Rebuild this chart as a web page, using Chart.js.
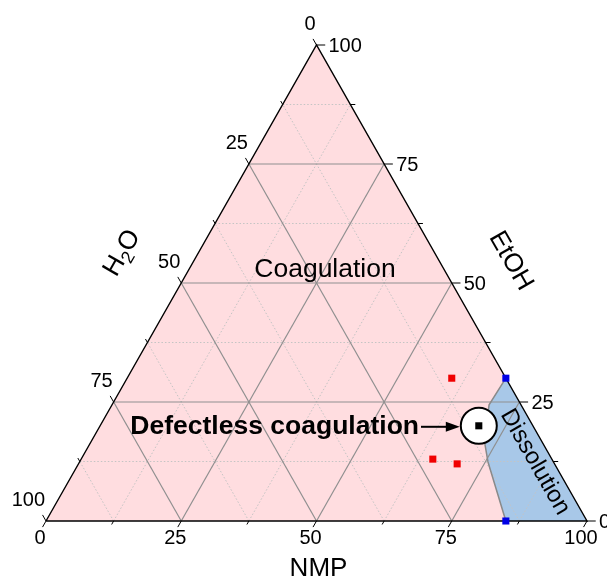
<!DOCTYPE html>
<html>
<head>
<meta charset="utf-8">
<script src="https://cdn.jsdelivr.net/npm/chart.js@4"></script>
<style>
html,body{margin:0;padding:0;background:#fff;}
#wrap{width:607px;height:577px;}
</style>
</head>
<body>
<div id="wrap"><canvas id="c" width="607" height="577"></canvas></div>
<script>
// ---- data (ternary compositions, %) ----
const tickValues = [0, 25, 50, 75, 100];
const minorValues = [12.5, 37.5, 62.5, 87.5];
const tickLabels = ["0", "25", "50", "75", "100"];

const redNMP  = [60, 65, 70];
const redEtOH = [30, 13, 12];

const optNMP  = [70];
const optEtOH = [20];

const blueNMP  = [70, 85];
const blueEtOH = [30, 0];

const dissNMP  = [70, 69.7, 72.5, 75.5, 85, 100];
const dissEtOH = [30, 24.4, 17, 12.4, 0, 0];

const triNMP  = [0, 0, 100];
const triEtOH = [0, 100, 0];

// convert (NMP, EtOH) to cartesian chart coordinates
function tp(nmp, etoh) { return { x: nmp + etoh / 2, y: etoh }; }
function pts(nmps, etohs) { return nmps.map((n, i) => tp(n, etohs[i])); }

const datasets = [];
function lineDS(data, color, width, dash, order) {
  datasets.push({ type: 'line', data, borderColor: color, borderWidth: width, borderDash: dash || [],
    pointRadius: 0, fill: false, tension: 0, clip: false, order });
}

// grid lines
[...tickValues.slice(1, 4), ...minorValues].forEach(c => {
  const major = c % 25 === 0;
  const col = major ? '#8f8f8f' : '#c4c4c4';
  const w = major ? 1.2 : 1;
  const dash = major ? [] : [1.5, 2];
  lineDS([tp(0, c), tp(100 - c, c)], col, w, dash, 20);        // EtOH = c
  lineDS([tp(c, 0), tp(c, 100 - c)], col, w, dash, 20);        // NMP = c
  lineDS([tp(100 - c, 0), tp(0, 100 - c)], col, w, dash, 20);  // H2O = c
});

// triangle border
lineDS([...pts(triNMP, triEtOH), pts(triNMP, triEtOH)[0]], '#000', 1.4, [], 10);

// dissolution boundary
lineDS(pts(dissNMP.slice(0, 5), dissEtOH.slice(0, 5)), '#8a8a8a', 1.5, [], 15);

// ticks
const PX_X = 5.42, PX_Y = 4.76;
function tickSeg(c, len) {
  const segs = [];
  const r = tp(100 - c, c);
  segs.push([r, { x: r.x + len * 1.25 / PX_X, y: r.y }]);
  const l = tp(0, 100 - c);
  const t = len / Math.hypot(0.5 * PX_X, PX_Y);
  segs.push([l, { x: l.x - 0.5 * t, y: l.y + t }]);
  const b = tp(c, 0);
  segs.push([b, { x: b.x - 0.5 * t, y: b.y - t }]);
  return segs;
}
tickValues.forEach(c => tickSeg(c, 7).forEach(s => lineDS(s, '#000', 1, [], 5)));
minorValues.forEach(c => tickSeg(c, 4).forEach(s => lineDS(s, '#000', 1, [], 5)));

// scatter points
datasets.push({ type: 'scatter', data: pts(redNMP, redEtOH), pointStyle: 'rect', pointRadius: 5,
  backgroundColor: '#f00000', borderColor: '#f00000', borderWidth: 0, clip: false, order: 1 });
datasets.push({ type: 'scatter', data: pts(blueNMP, blueEtOH), pointStyle: 'rect', pointRadius: 5,
  backgroundColor: '#0000e6', borderColor: '#0000e6', borderWidth: 0, clip: false, order: 1 });
datasets.push({ type: 'scatter', data: pts(optNMP, optEtOH), pointStyle: 'rect', pointRadius: 5,
  backgroundColor: '#000', borderColor: '#000', borderWidth: 0, clip: false, order: 0 });
datasets.push({ type: 'scatter', data: pts(optNMP, optEtOH), pointStyle: 'circle', pointRadius: 18,
  backgroundColor: '#fff', borderColor: '#000', borderWidth: 2, clip: false, order: 2 });

const FONT = '"Liberation Sans", Arial, sans-serif';

const fillPlugin = {
  id: 'fills',
  beforeDatasetsDraw(chart) {
    const { ctx, scales: { x, y } } = chart;
    function poly(points, color) {
      ctx.beginPath();
      points.forEach((p, i) => {
        const px = x.getPixelForValue(p.x), py = y.getPixelForValue(p.y);
        i ? ctx.lineTo(px, py) : ctx.moveTo(px, py);
      });
      ctx.closePath();
      ctx.fillStyle = color;
      ctx.fill();
    }
    ctx.save();
    poly(pts(triNMP, triEtOH), '#ffdde0');
    poly(pts(dissNMP, dissEtOH), '#a8c8e8');
    ctx.restore();
  }
};

const textPlugin = {
  id: 'texts',
  afterDatasetsDraw(chart) {
    const { ctx, scales: { x, y } } = chart;
    const P = p => ({ x: x.getPixelForValue(p.x), y: y.getPixelForValue(p.y) });
    ctx.save();
    ctx.fillStyle = '#000';
    ctx.font = '20px ' + FONT;
    ctx.textAlign = 'center'; ctx.textBaseline = 'middle';
    tickValues.forEach((c, i) => {
      const p = P(tp(c, 0));
      ctx.fillText(tickLabels[i], p.x - 6, p.y + 17);
    });
    ctx.textAlign = 'left';
    tickValues.forEach((c, i) => {
      const p = P(tp(100 - c, c));
      ctx.fillText(tickLabels[i], p.x + 12, p.y + 1);
    });
    ctx.textAlign = 'right';
    tickValues.forEach((c, i) => {
      const p = P(tp(0, 100 - c));
      ctx.fillText(tickLabels[i], p.x - 1, p.y - 21);
    });

    // axis titles
    ctx.font = '26px ' + FONT;
    ctx.textAlign = 'center';
    const bottomMid = P(tp(50, 0));
    ctx.fillText('NMP', bottomMid.x + 2, bottomMid.y + 48);

    const rm = P(tp(50, 50));
    ctx.save();
    ctx.translate(rm.x + 59, rm.y - 22);
    ctx.rotate(Math.PI / 3);
    ctx.fillText('EtOH', 0, 0);
    ctx.restore();

    const lm = P(tp(0, 50));
    ctx.save();
    ctx.translate(lm.x - 59, lm.y - 30);
    ctx.rotate(-Math.PI / 3);
    ctx.textAlign = 'left';
    ctx.font = '26px ' + FONT;
    const wH = ctx.measureText('H').width;
    ctx.font = '18px ' + FONT;
    const w2 = ctx.measureText('2').width;
    ctx.font = '26px ' + FONT;
    const wO = ctx.measureText('O').width;
    const tot = wH + w2 + wO;
    let sx = -tot / 2;
    ctx.fillText('H', sx, 0); sx += wH;
    ctx.font = '18px ' + FONT;
    ctx.fillText('2', sx, 8); sx += w2;
    ctx.font = '26px ' + FONT;
    ctx.fillText('O', sx, 0);
    ctx.restore();

    // region labels
    ctx.font = '26.5px ' + FONT;
    ctx.textAlign = 'center';
    ctx.fillText('Coagulation', 325, 270);

    ctx.font = 'bold 26.5px ' + FONT;
    ctx.textAlign = 'right';
    ctx.fillText('Defectless coagulation', 419, 427);

    // arrow
    const op = P(tp(optNMP[0], optEtOH[0]));
    ctx.strokeStyle = '#000';
    ctx.lineWidth = 2;
    ctx.beginPath();
    ctx.moveTo(421, op.y + 1);
    ctx.lineTo(op.x - 30, op.y + 1);
    ctx.stroke();
    ctx.beginPath();
    ctx.moveTo(op.x - 19, op.y + 1);
    ctx.lineTo(op.x - 33, op.y - 4);
    ctx.lineTo(op.x - 33, op.y + 6);
    ctx.closePath();
    ctx.fill();

    // Dissolution
    ctx.font = '24px ' + FONT;
    ctx.textAlign = 'center';
    ctx.save();
    ctx.translate(535, 462);
    ctx.rotate(Math.PI / 3 + 0.005);
    ctx.fillText('Dissolution', 0, 0);
    ctx.restore();

    ctx.restore();
  }
};

new Chart(document.getElementById('c'), {
  type: 'scatter',
  data: { datasets },
  options: {
    responsive: false,
    animation: false,
    layout: { padding: { left: 46, right: 19, top: 45, bottom: 56 } },
    scales: {
      x: { type: 'linear', min: 0, max: 100, display: false },
      y: { type: 'linear', min: 0, max: 100, display: false }
    },
    plugins: { legend: { display: false }, tooltip: { enabled: false } },
    events: []
  },
  plugins: [fillPlugin, textPlugin]
});
</script>
</body>
</html>
